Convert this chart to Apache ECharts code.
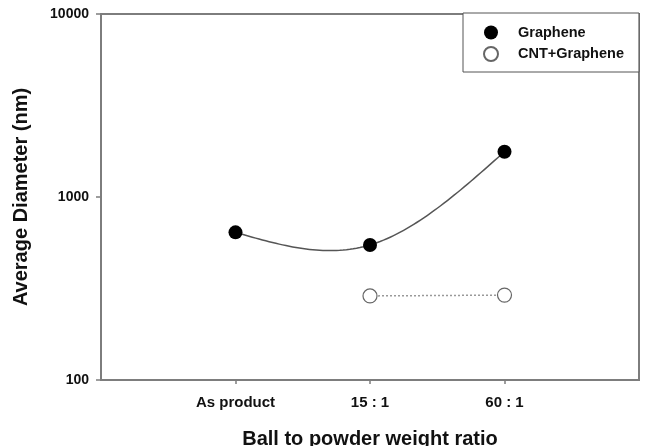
<!DOCTYPE html>
<html>
<head>
<meta charset="utf-8">
<script src="https://cdn.jsdelivr.net/npm/echarts@6/dist/echarts.min.js"></script>
<style>
  html, body { margin: 0; padding: 0; background: #fff; }
  #chart { width: 645px; height: 446px; }
</style>
</head>
<body>
<div id="chart"></div>
<script>
// Milling conditions (x categories)
const categories = ['As product', '15 : 1', '60 : 1'];
// Average diameter (nm) per condition; null = not measured
const graphene = [641, 547, 1768];
const cntGraphene = [null, 288, 291];
const yTicks = [100, 1000, 10000];

// Pad the category axis with an empty slot on each side
const axisCats = [''].concat(categories, ['']);
const pad = arr => [null].concat(arr, [null]);

const FONT = '"Liberation Sans", Arial, sans-serif';
const AXIS_GRAY = '#7d7d7d';

// Natural cubic spline through pixel points (x strictly increasing)
function naturalSpline(pts, steps) {
  const n = pts.length;
  if (n < 3) return pts.slice();
  const h = [], M = new Array(n).fill(0);
  for (let i = 0; i < n - 1; i++) h.push(pts[i + 1][0] - pts[i][0]);
  // tridiagonal solve for interior second derivatives
  const a = [], b = [], c = [], d = [];
  for (let i = 1; i < n - 1; i++) {
    a.push(h[i - 1]); b.push(2 * (h[i - 1] + h[i])); c.push(h[i]);
    d.push(6 * ((pts[i + 1][1] - pts[i][1]) / h[i] - (pts[i][1] - pts[i - 1][1]) / h[i - 1]));
  }
  const m = b.length;
  for (let i = 1; i < m; i++) {
    const w = a[i] / b[i - 1];
    b[i] -= w * c[i - 1]; d[i] -= w * d[i - 1];
  }
  const sol = new Array(m);
  sol[m - 1] = d[m - 1] / b[m - 1];
  for (let i = m - 2; i >= 0; i--) sol[i] = (d[i] - c[i] * sol[i + 1]) / b[i];
  for (let i = 0; i < m; i++) M[i + 1] = sol[i];
  const out = [];
  for (let i = 0; i < n - 1; i++) {
    const [x0, y0] = pts[i], [x1, y1] = pts[i + 1], hi = h[i];
    for (let s = 0; s <= steps; s++) {
      if (i > 0 && s === 0) continue;
      const x = x0 + hi * s / steps;
      const A = (x1 - x) / hi, B = (x - x0) / hi;
      const y = A * y0 + B * y1 + ((A * A * A - A) * M[i] + (B * B * B - B) * M[i + 1]) * hi * hi / 6;
      out.push([x, y]);
    }
  }
  return out;
}

const chart = echarts.init(document.getElementById('chart'), null, { renderer: 'canvas' });
chart.setOption({
  animation: false,
  textStyle: { fontFamily: FONT },
  grid: {
    left: 101, right: 6, top: 14, bottom: 66,
    outerBoundsMode: 'none',
    containLabel: false,
    show: true, borderColor: AXIS_GRAY, borderWidth: 2, backgroundColor: 'transparent'
  },
  legend: {
    orient: 'vertical',
    left: 463, top: 13,
    icon: 'circle',
    itemWidth: 14, itemHeight: 14, itemGap: 6,
    padding: [12, 15, 10, 20],
    backgroundColor: '#fff',
    borderColor: '#555', borderWidth: 1,
    textStyle: { fontFamily: FONT, fontSize: 14.5, fontWeight: 'bold', color: '#111', padding: [0, 0, 0, 15] },
    data: ['Graphene', 'CNT+Graphene']
  },
  xAxis: {
    type: 'category',
    data: axisCats,
    boundaryGap: false,
    name: 'Ball to powder weight ratio',
    nameLocation: 'middle',
    nameGap: 49,
    nameTextStyle: { fontFamily: FONT, fontSize: 20, fontWeight: 'bold', color: '#111' },
    axisLine: { lineStyle: { color: AXIS_GRAY, width: 2 } },
    axisTick: { inside: false, length: 4, lineStyle: { color: AXIS_GRAY, width: 1.5 },
      interval: (i) => i >= 1 && i <= categories.length },
    axisLabel: { fontFamily: FONT, fontSize: 15, fontWeight: 'bold', color: '#111', margin: 15,
      interval: 0 },
    splitLine: { show: false }
  },
  yAxis: {
    type: 'log',
    logBase: 10,
    min: yTicks[0],
    max: yTicks[yTicks.length - 1],
    name: 'Average Diameter (nm)',
    nameLocation: 'middle',
    nameGap: 70,
    nameTextStyle: { fontFamily: FONT, fontSize: 20, fontWeight: 'bold', color: '#111' },
    axisLine: { show: true, lineStyle: { color: AXIS_GRAY, width: 2 } },
    axisTick: { show: true, inside: false, length: 5, lineStyle: { color: AXIS_GRAY, width: 1.5 } },
    minorTick: { show: false },
    axisLabel: { fontFamily: FONT, fontSize: 14, fontWeight: 'bold', color: '#111', margin: 12,
      formatter: v => String(Math.round(v)) },
    splitLine: { show: false }
  },
  series: [
    {
      // spline curve through the graphene points
      name: 'Graphene curve',
      type: 'custom',
      data: [0],
      silent: true,
      z: 2,
      renderItem: (params, api) => {
        const pts = graphene
          .map((v, i) => (v == null ? null : api.coord([i + 1, v])))
          .filter(p => p);
        return {
          type: 'polyline',
          shape: { points: naturalSpline(pts, 40) },
          style: { stroke: '#555', lineWidth: 1.5, fill: null }
        };
      }
    },
    {
      name: 'Graphene',
      type: 'line',
      data: pad(graphene),
      symbol: 'circle',
      symbolSize: 14,
      itemStyle: { color: '#000', borderColor: '#000', borderWidth: 0 },
      lineStyle: { width: 0, opacity: 0 },
      z: 3
    },
    {
      name: 'CNT+Graphene',
      type: 'line',
      data: pad(cntGraphene),
      symbol: 'circle',
      symbolSize: 14,
      itemStyle: { color: '#fff', borderColor: '#666', borderWidth: 1.2 },
      lineStyle: { color: '#999', width: 1.5, type: [2, 2] },
      z: 2
    }
  ]
});
</script>
</body>
</html>
